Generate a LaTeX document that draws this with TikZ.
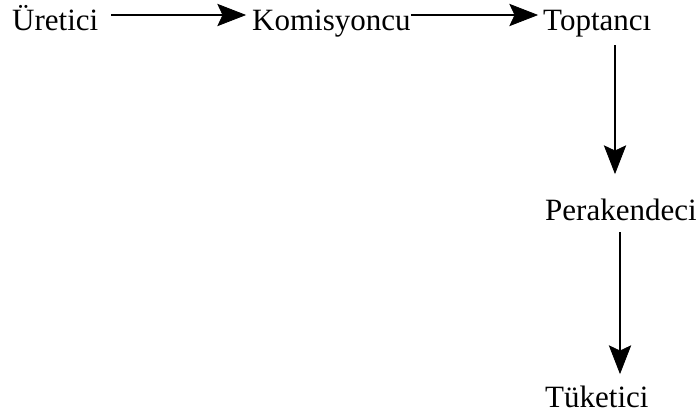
\documentclass[tikz,border=0pt]{standalone}
\usepackage{fontspec}
\setmainfont{Liberation Serif}
\tikzset{
  lbl/.style={anchor=base west,inner sep=0pt,font=\fontsize{31}{36}\selectfont},
  arr/.style={line width=1.8pt,shorten >=20pt},
  headfill/.style={fill=black,draw=black,line width=0.8pt,line join=miter}
}
\newcommand{\chevronhead}[2]{%
  \path[headfill,shift={(#1)},rotate=#2]
    (0pt,0pt) -- (-27pt,10.5pt) -- (-22pt,0pt) -- (-27pt,-10.5pt) -- cycle;}
\begin{document}
\begin{tikzpicture}
\useasboundingbox (0pt,0pt) rectangle (698pt,-416pt);
\node[lbl] (u) at (12pt,-30pt) {Üretici};
\node[lbl] (k) at (252pt,-30pt) {Komisyoncu};
\node[lbl] (t) at (543pt,-30pt) {Toptancı};
\node[lbl] (p) at (545pt,-220pt) {Perakendeci};
\node[lbl] (c) at (545pt,-407pt) {Tüketici};
\coordinate (s1) at ([shift={(13pt,15pt)}]u.base east);
\coordinate (e1) at ([shift={(-7pt,15pt)}]k.base west);
\coordinate (s2) at ([shift={(0pt,15pt)}]k.base east);
\coordinate (e2) at ([shift={(-6pt,15pt)}]t.base west);
\coordinate (s3) at ([shift={(72pt,-15pt)}]t.base west);
\coordinate (e3) at ([shift={(70pt,47pt)}]p.base west);
\coordinate (s4) at ([shift={(75pt,-12pt)}]p.base west);
\coordinate (e4) at ([shift={(75pt,34pt)}]c.base west);
\draw[arr] (s1) -- (e1); \chevronhead{e1}{0}
\draw[arr] (s2) -- (e2); \chevronhead{e2}{0}
\draw[arr] (s3) -- (e3); \chevronhead{e3}{-90}
\draw[arr] (s4) -- (e4); \chevronhead{e4}{-90}
\end{tikzpicture}
\end{document}
